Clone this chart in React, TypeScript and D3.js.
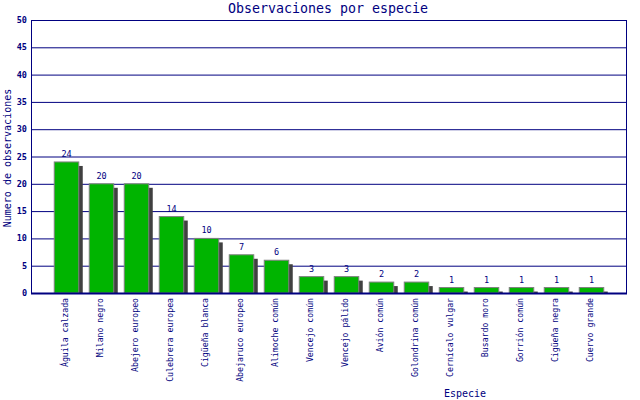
import { useEffect, useRef } from 'react';
import * as d3 from 'd3';

// Data
const species = [
  'Águila calzada', 'Milano negro', 'Abejero europeo', 'Culebrera europea',
  'Cigüeña blanca', 'Abejaruco europeo', 'Alimoche común', 'Vencejo común',
  'Vencejo pálido', 'Avión común', 'Golondrina común', 'Cernícalo vulgar',
  'Busardo moro', 'Gorrión común', 'Cigüeña negra', 'Cuervo grande',
];
const counts = [24, 20, 20, 14, 10, 7, 6, 3, 3, 2, 2, 1, 1, 1, 1, 1];
const yTicks = [0, 5, 10, 15, 20, 25, 30, 35, 40, 45, 50];

const NAVY = '#000080';
const FONT = '"DejaVu Sans Mono", monospace';

export default function App(): JSX.Element {
  const svgRef = useRef<SVGSVGElement>(null);

  useEffect(() => {
    if (!svgRef.current) return;
    const svg = d3.select(svgRef.current);
    svg.selectAll('*').remove();

    const left = 31, right = 626, top = 20, bottom = 293;

    const x = d3.scaleBand<string>()
      .domain(species)
      .range([49, 609])
      .paddingInner(0.3)
      .paddingOuter(0.15);

    const y = d3.scaleLinear().domain([0, 50]).range([bottom, top]);

    svg.append('rect')
      .attr('width', 640).attr('height', 400).attr('fill', '#ffffff');

    // Grid lines
    svg.append('g')
      .selectAll('line')
      .data(yTicks)
      .enter()
      .append('line')
      .attr('x1', left)
      .attr('x2', right)
      .attr('y1', d => y(d) + 0.5)
      .attr('y2', d => y(d) + 0.5)
      .attr('stroke', NAVY)
      .attr('stroke-width', 1);

    // Y tick labels
    svg.append('g')
      .selectAll('text')
      .data(yTicks)
      .enter()
      .append('text')
      .attr('x', left - 4)
      .attr('y', d => y(d) + 3)
      .attr('text-anchor', 'end')
      .style('font-family', FONT)
      .style('font-size', '8.5px')
      .style('font-weight', 'bold')
      .style('fill', NAVY)
      .text(d => d);

    const data = species.map((s, i) => ({ s, v: counts[i] }));

    // Shadows
    svg.append('g')
      .selectAll('rect')
      .data(data)
      .enter()
      .append('rect')
      .attr('x', d => (x(d.s) || 0) + 4)
      .attr('y', d => y(d.v) + 4)
      .attr('width', x.bandwidth())
      .attr('height', d => Math.max(0, bottom - y(d.v) - 4))
      .attr('fill', '#404040');

    // Bars
    svg.append('g')
      .selectAll('rect')
      .data(data)
      .enter()
      .append('rect')
      .attr('x', d => x(d.s) || 0)
      .attr('y', d => y(d.v))
      .attr('width', x.bandwidth())
      .attr('height', d => bottom - y(d.v))
      .attr('fill', '#00b400')
      .attr('stroke', '#808080')
      .attr('stroke-width', 1);

    // Value labels
    svg.append('g')
      .selectAll('text')
      .data(data)
      .enter()
      .append('text')
      .attr('x', d => (x(d.s) || 0) + x.bandwidth() / 2)
      .attr('y', d => y(d.v) - 5)
      .attr('text-anchor', 'middle')
      .style('font-family', FONT)
      .style('font-size', '8.5px')
      .style('fill', NAVY)
      .text(d => d.v);

    // Axes lines
    svg.append('line')
      .attr('x1', left + 0.5).attr('x2', left + 0.5)
      .attr('y1', top).attr('y2', bottom + 1)
      .attr('stroke', NAVY);
    svg.append('line')
      .attr('x1', right + 0.5).attr('x2', right + 0.5)
      .attr('y1', top).attr('y2', bottom + 1)
      .attr('stroke', NAVY);
    svg.append('line')
      .attr('x1', left).attr('x2', right + 1)
      .attr('y1', bottom + 0.5).attr('y2', bottom + 0.5)
      .attr('stroke', NAVY)
      .attr('stroke-width', 2);

    // Category labels
    svg.append('g')
      .selectAll('text')
      .data(species)
      .enter()
      .append('text')
      .attr('transform', d => `translate(${(x(d) || 0) + x.bandwidth() / 2 + 1},298) rotate(-90)`)
      .attr('text-anchor', 'end')
      .style('font-family', FONT)
      .style('font-size', '8.2px')
      .style('fill', NAVY)
      .text(d => d);

    // Title
    svg.append('text')
      .attr('x', 328)
      .attr('y', 13)
      .attr('text-anchor', 'middle')
      .style('font-family', FONT)
      .style('font-size', '13.3px')
      .style('fill', NAVY)
      .text('Observaciones por especie');

    // Axis titles
    svg.append('text')
      .attr('transform', 'translate(11,158) rotate(-90)')
      .attr('text-anchor', 'middle')
      .style('font-family', FONT)
      .style('font-size', '10px')
      .style('fill', NAVY)
      .text('Numero de observaciones');

    svg.append('text')
      .attr('x', 465)
      .attr('y', 397)
      .attr('text-anchor', 'middle')
      .style('font-family', FONT)
      .style('font-size', '10px')
      .style('fill', NAVY)
      .text('Especie');
  }, []);

  return (
    <svg
      ref={svgRef}
      width={640}
      height={400}
      style={{ position: 'absolute', left: 0, top: 0, display: 'block' }}
    />
  );
}
